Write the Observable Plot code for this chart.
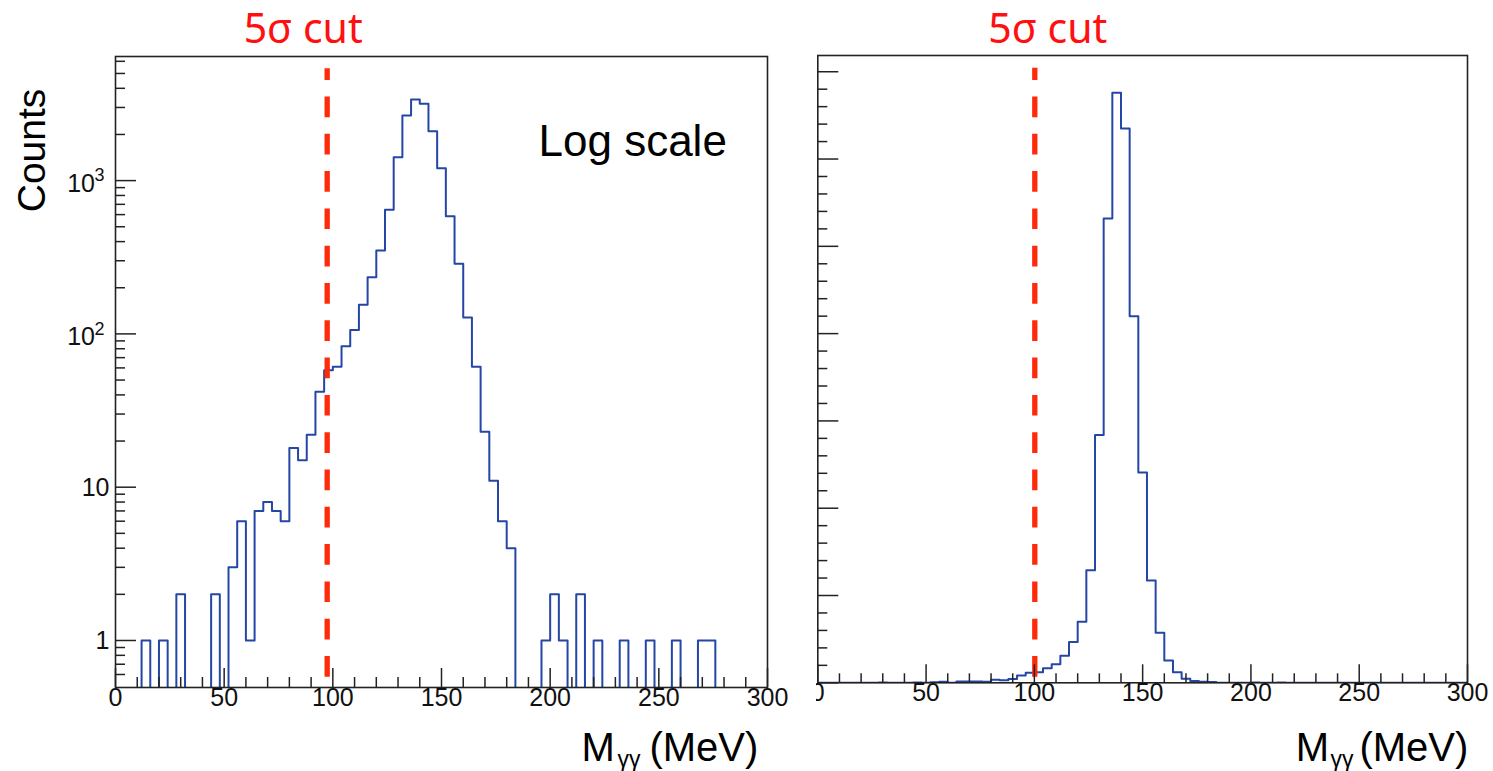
<!DOCTYPE html>
<html><head><meta charset="utf-8">
<script src="https://cdn.jsdelivr.net/npm/d3@7"></script>
<script src="https://cdn.jsdelivr.net/npm/@observablehq/plot@0.6"></script>
<style>
html,body{margin:0;padding:0;background:#fff;}
#wrap{position:relative;width:1493px;height:771px;overflow:hidden;background:#fff;}
#left{position:absolute;left:0;top:0;z-index:2;}
#left svg{overflow:visible;background:transparent !important;}
#rightClip{position:absolute;left:816px;top:0;width:677px;height:771px;overflow:hidden;z-index:1;}
#right{position:absolute;left:-36px;top:0;}
</style></head>
<body><div id="wrap"><div id="left"></div><div id="rightClip"><div id="right"></div></div></div>
<script>
// ---- data ----
// lower edges of the 4 MeV bins (M_γγ, MeV)
const binLow = [0,4,8,12,16,20,24,28,32,36,40,44,48,52,56,60,64,68,72,76,80,84,88,92,96,
  100,104,108,112,116,120,124,128,132,136,140,144,148,152,156,160,164,168,172,176,180,184,188,192,196,
  200,204,208,212,216,220,224,228,232,236,240,244,248,252,256,260,264,268,272,276,280,284,288,292,296];
const binHighEnd = 300;
// counts per bin
const counts = [0,0,0,1,0,1,0,2,0,0,0,2,0,3,6,1,7,8,7,6,18,15,22,42,58,
  61,83,106,155,234,350,645,1420,2660,3380,3175,2100,1205,586,287,128,61,23,11,6,4,0,0,0,1,
  2,1,0,2,0,1,0,0,1,0,0,1,0,0,1,0,0,1,1,0,0,0,0,0,0];
const cutLeft = 97.4;   // 5σ cut (left panel annotation)
const cutRight = 100.2; // 5σ cut (right panel annotation)
const cutLabel = "5σ cut";
const xMajor = [0,50,100,150,200,250,300];
const xMinor = [10,20,30,40,60,70,80,90,110,120,130,140,160,170,180,190,210,220,230,240,260,270,280,290];
const yLogMajor = [1,10,100,1000];
const yLogMinor = [0.6,0.7,0.8,0.9,2,3,4,5,6,7,8,9,20,30,40,50,60,70,80,90,200,300,400,500,600,700,800,900,2000,3000,4000,5000,6000];
const yLogPlainLabels = [{v:1,t:"1"},{v:10,t:"10"}];
const yLogExpLabels = [{v:100,b:"10",e:"2"},{v:1000,b:"10",e:"3"}];
const yLinMajor = [0,500,1000,1500,2000,2500,3000,3500];
const yLinMinor = [100,200,300,400,600,700,800,900,1100,1200,1300,1400,1600,1700,1800,1900,2100,2200,2300,2400,2600,2700,2800,2900,3100,3200,3300,3400];

// ---- styles ----
const histColor = "#2446a6";
const cutColor = "#ff2a0a";
const labelRed = "#ff1010";
const axisColor = "#222";
const font = "'Liberation Sans', Arial, Helvetica, sans-serif";

const pts = binLow.map((x,i)=>({x, y: counts[i]})).concat([{x: binHighEnd, y: counts[counts.length-1]}]);

function axisTitle(dxM, dxG, dxU, dy){
  return [
    Plot.text(["M"], {frameAnchor:"bottom-right", dx:dxM, dy, textAnchor:"start", lineAnchor:"bottom", fontSize:40, fill:"#000"}),
    Plot.text(["γγ"], {frameAnchor:"bottom-right", dx:dxG, dy:dy+6, textAnchor:"start", lineAnchor:"bottom", fontSize:23, fill:"#000"}),
    Plot.text(["(MeV)"], {frameAnchor:"bottom-right", dx:dxU, dy, textAnchor:"end", lineAnchor:"bottom", fontSize:40, fill:"#000"})
  ];
}

// ---- left (log) panel ----
{
  const W=780, H=771, mL=115, mR=13, mT=56, mB=84;
  const fw=W-mL-mR, fh=H-mT-mB;
  const p = Plot.plot({
    width:W, height:H, marginLeft:mL, marginRight:mR, marginTop:mT, marginBottom:mB,
    x:{domain:[0,300], axis:null},
    y:{type:"log", domain:[0.4935,6450], axis:null},
    style:{fontFamily:font, background:"transparent", overflow:"visible"},
    marks:[
      Plot.line(pts, {x:"x", y:d=>Math.max(d.y,0.1), curve:"step-after", stroke:histColor, strokeWidth:2, clip:true}),
      Plot.ruleX([cutLeft], {x:d=>d, stroke:cutColor, strokeWidth:5.3, strokeDasharray:"20.7,16.6", strokeDashoffset:9.1, insetTop:12.3, insetBottom:10.3}),
      Plot.ruleX(xMajor, {x:d=>d, stroke:axisColor, strokeWidth:1.5, insetTop:fh-19}),
      Plot.ruleX(xMinor, {x:d=>d, stroke:axisColor, strokeWidth:1.5, insetTop:fh-10}),
      Plot.ruleY(yLogMajor, {y:d=>d, stroke:axisColor, strokeWidth:1.5, insetRight:fw-21}),
      Plot.ruleY(yLogMinor, {y:d=>d, stroke:axisColor, strokeWidth:1.5, insetRight:fw-10}),
      Plot.frame({stroke:axisColor, strokeWidth:1.6}),
      Plot.text(xMajor, {x:d=>d, text:d=>String(d), frameAnchor:"bottom", dy:18.5, fontSize:25, fill:"#111"}),
      Plot.text(yLogPlainLabels, {y:"v", text:"t", frameAnchor:"left", textAnchor:"end", dx:-6, dy:1, fontSize:25, fill:"#111"}),
      Plot.text(yLogExpLabels, {y:"v", text:"b", frameAnchor:"left", textAnchor:"end", dx:-20.5, dy:3, fontSize:25, fill:"#111"}),
      Plot.text(yLogExpLabels, {y:"v", text:"e", frameAnchor:"left", textAnchor:"end", dx:-11, dy:-5, fontSize:18, fill:"#111"}),
      Plot.text(["Counts"], {frameAnchor:"top-left", dx:-98.5, dy:94, rotate:-90, textAnchor:"middle", fontSize:39, fill:"#000"}),
      Plot.text(["Log scale"], {frameAnchor:"top-left", dx:423, dy:99, textAnchor:"start", lineAnchor:"bottom", fontSize:44, fill:"#000"}),
      Plot.text([cutLeft], {x:d=>d, text:()=>cutLabel, frameAnchor:"top", dx:-24, dy:-14, lineAnchor:"bottom", fontFamily:"'Noto Sans', sans-serif", fontSize:41, fill:labelRed}),
      ...axisTitle(-186, -150, -9.2, 73)
    ]
  });
  document.getElementById("left").appendChild(p);
}

// ---- right (linear) panel ----
{
  const W=713, H=771, mL=37.3, mR=26, mT=55, mB=88.7;
  const fw=W-mL-mR, fh=H-mT-mB;
  const p = Plot.plot({
    width:W, height:H, marginLeft:mL, marginRight:mR, marginTop:mT, marginBottom:mB,
    x:{domain:[0,300], axis:null},
    y:{domain:[0,3593], axis:null},
    style:{fontFamily:font, background:"white"},
    marks:[
      Plot.line(pts, {x:"x", y:"y", curve:"step-after", stroke:histColor, strokeWidth:2, clip:true}),
      Plot.ruleX([cutRight], {x:d=>d, stroke:cutColor, strokeWidth:5.3, strokeDasharray:"20.7,16.6", strokeDashoffset:8.5, insetTop:12.7, insetBottom:5.6}),
      Plot.ruleX(xMajor, {x:d=>d, stroke:axisColor, strokeWidth:1.5, insetTop:fh-18}),
      Plot.ruleX(xMinor, {x:d=>d, stroke:axisColor, strokeWidth:1.5, insetTop:fh-9}),
      Plot.ruleY(yLinMajor, {y:d=>d, stroke:axisColor, strokeWidth:1.5, insetRight:fw-21}),
      Plot.ruleY(yLinMinor, {y:d=>d, stroke:axisColor, strokeWidth:1.5, insetRight:fw-10}),
      Plot.frame({stroke:axisColor, strokeWidth:1.6}),
      Plot.text(xMajor, {x:d=>d, text:d=>String(d), frameAnchor:"bottom", dy:18.5, fontSize:25, fill:"#111"}),
      Plot.text([cutRight], {x:d=>d, text:()=>cutLabel, frameAnchor:"top", dx:13, dy:-13, lineAnchor:"bottom", fontFamily:"'Noto Sans', sans-serif", fontSize:41, fill:labelRed}),
      ...axisTitle(-171.7, -137, 0.8, 77.7)
    ]
  });
  document.getElementById("right").appendChild(p);
}
</script>
</body></html>
